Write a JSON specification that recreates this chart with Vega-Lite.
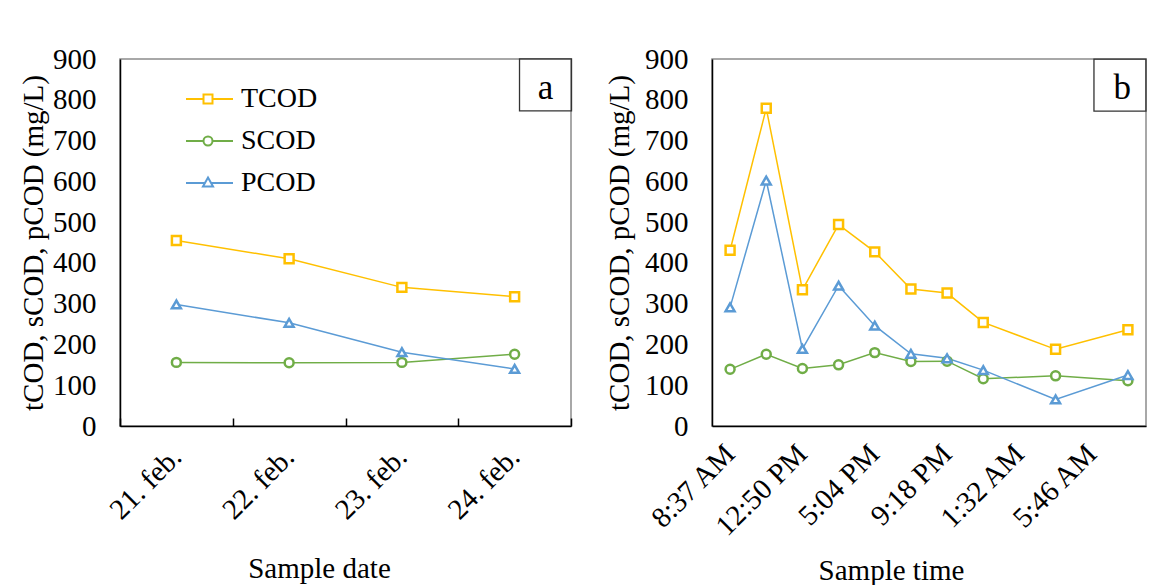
{
  "$schema": "https://vega.github.io/schema/vega-lite/v6.json",
  "background": "white",
  "padding": {"left": 18, "top": 44, "right": 0, "bottom": 0},
  "bounds": "flush",
  "spacing": 141,
  "config": {
    "font": "Liberation Serif",
    "view": {"stroke": "#8c8c8c", "strokeWidth": 1.5},
    "axis": {
      "labelFont": "Liberation Serif",
      "titleFont": "Liberation Serif",
      "labelFontSize": 29,
      "titleFontSize": 29,
      "titleFontWeight": "normal",
      "labelColor": "black",
      "titleColor": "black",
      "domainColor": "black",
      "domainWidth": 1.5,
      "grid": false,
      "labelLimit": 0
    },
    "axisY": {
      "ticks": false,
      "labelPadding": 24,
      "titlePadding": 4,
      "values": [0, 100, 200, 300, 400, 500, 600, 700, 800, 900]
    }
  },
  "hconcat": [
    {
      "width": 451,
      "height": 367,
      "layer": [
        {
          "data": {
            "values": [
              {"date": "21. feb.", "series": "TCOD", "cod": 455},
              {"date": "22. feb.", "series": "TCOD", "cod": 410},
              {"date": "23. feb.", "series": "TCOD", "cod": 340},
              {"date": "24. feb.", "series": "TCOD", "cod": 317},
              {"date": "21. feb.", "series": "SCOD", "cod": 156},
              {"date": "22. feb.", "series": "SCOD", "cod": 155},
              {"date": "23. feb.", "series": "SCOD", "cod": 156},
              {"date": "24. feb.", "series": "SCOD", "cod": 176},
              {"date": "21. feb.", "series": "PCOD", "cod": 298},
              {"date": "22. feb.", "series": "PCOD", "cod": 253},
              {"date": "23. feb.", "series": "PCOD", "cod": 181},
              {"date": "24. feb.", "series": "PCOD", "cod": 140}
            ]
          },
          "encoding": {
            "x": {
              "field": "date",
              "type": "ordinal",
              "bandPosition": 0.5,
              "scale": {
                "type": "band",
                "paddingInner": 0,
                "paddingOuter": 0,
                "domain": ["21. feb.", "22. feb.", "23. feb.", "24. feb."]
              },
              "axis": {
                "title": "Sample date",
                "labelAngle": -45,
                "labelAlign": "right",
                "labelBaseline": "middle",
                "tickBand": "extent",
                "ticks": true,
                "tickSize": -8,
                "tickColor": "black",
                "tickWidth": 1.5,
                "labelPadding": 34,
                "titleX": 199,
                "titleY": 151,
                "titleBaseline": "alphabetic"
              }
            },
            "y": {
              "field": "cod",
              "type": "quantitative",
              "scale": {"domain": [0, 900]},
              "axis": {"title": "tCOD, sCOD, pCOD (mg/L)"}
            },
            "order": {"value": null}
          },
          "layer": [
            {
              "mark": {"type": "line", "strokeWidth": 1.5},
              "encoding": {
                "color": {
                  "field": "series",
                  "type": "nominal",
                  "scale": {
                    "domain": ["TCOD", "SCOD", "PCOD"],
                    "range": ["#FFC000", "#70AD47", "#5B9BD5"]
                  },
                  "legend": {
                    "title": null,
                    "orient": "none",
                    "legendX": 66,
                    "legendY": 19,
                    "padding": 0,
                    "rowPadding": 0,
                    "clipHeight": 42,
                    "symbolSize": 1764,
                    "labelOffset": 11,
                    "labelFont": "Liberation Serif",
                    "labelFontSize": 28,
                    "labelColor": "black",
                    "labelLimit": 0,
                    "symbolStrokeWidth": 2,
                    "encode": {
                      "symbols": {
                        "update": {
                          "shape": {"signal": "datum.value === 'TCOD' ? 'M-1.19,0H-0.214M0.214,0H1.19M-0.214,-0.214H0.214V0.214H-0.214Z' : datum.value === 'SCOD' ? 'M-1.19,0H-0.214M0.214,0H1.19M-0.214,0A0.214,0.214,0,1,0,0.214,0A0.214,0.214,0,1,0,-0.214,0Z' : 'M-1.19,0H-0.15M0.15,0H1.19M0,-0.26L0.24,0.17H-0.24Z'"},
                          "fill": {"value": "white"},
                          "strokeWidth": {"value": 2},
                          "opacity": {"value": 1}
                        }
                      }
                    }
                  }
                }
              }
            },
            {
              "transform": [{"filter": "datum.series === 'TCOD'"}],
              "mark": {"type": "point", "shape": "square", "filled": false, "fill": "white", "size": 80, "strokeWidth": 2.5, "opacity": 1},
              "encoding": {"color": {"field": "series", "type": "nominal", "legend": null}}
            },
            {
              "transform": [{"filter": "datum.series === 'SCOD'"}],
              "mark": {"type": "point", "shape": "circle", "filled": false, "fill": "white", "size": 80, "strokeWidth": 2.5, "opacity": 1},
              "encoding": {"color": {"field": "series", "type": "nominal", "legend": null}}
            },
            {
              "transform": [{"filter": "datum.series === 'PCOD'"}],
              "mark": {"type": "point", "shape": "triangle-up", "filled": false, "fill": "white", "size": 80, "strokeWidth": 2.5, "opacity": 1},
              "encoding": {"color": {"field": "series", "type": "nominal", "legend": null}}
            }
          ]
        },
        {
          "data": {"values": [{"date": "24. feb.", "cod": 836.5, "tag": "a", "base": 802}]},
          "layer": [
            {
              "mark": {"type": "point", "shape": "square", "size": 2704, "filled": false, "stroke": "#333333", "strokeWidth": 1.3, "opacity": 1},
              "encoding": {
                "x": {"field": "date", "type": "ordinal", "bandPosition": 0.774},
                "y": {"field": "cod", "type": "quantitative"}
              }
            },
            {
              "mark": {"type": "text", "fontSize": 35, "font": "Liberation Serif", "color": "black", "baseline": "alphabetic", "align": "center"},
              "encoding": {
                "x": {"field": "date", "type": "ordinal", "bandPosition": 0.774},
                "y": {"field": "base", "type": "quantitative"},
                "text": {"field": "tag"}
              }
            }
          ]
        }
      ]
    },
    {
      "width": 434,
      "height": 367,
      "layer": [
        {
          "data": {
            "values": [
              {"time": "8:37 AM", "series": "TCOD", "cod": 431},
              {"time": "10:44 AM", "series": "TCOD", "cod": 779},
              {"time": "12:50 PM", "series": "TCOD", "cod": 334},
              {"time": "2:57 PM", "series": "TCOD", "cod": 494},
              {"time": "5:04 PM", "series": "TCOD", "cod": 427},
              {"time": "7:11 PM", "series": "TCOD", "cod": 336},
              {"time": "9:18 PM", "series": "TCOD", "cod": 326},
              {"time": "11:25 PM", "series": "TCOD", "cod": 254},
              {"time": "3:39 AM", "series": "TCOD", "cod": 188},
              {"time": "7:53 AM", "series": "TCOD", "cod": 236},
              {"time": "8:37 AM", "series": "SCOD", "cod": 139},
              {"time": "10:44 AM", "series": "SCOD", "cod": 176},
              {"time": "12:50 PM", "series": "SCOD", "cod": 141},
              {"time": "2:57 PM", "series": "SCOD", "cod": 150},
              {"time": "5:04 PM", "series": "SCOD", "cod": 180},
              {"time": "7:11 PM", "series": "SCOD", "cod": 158},
              {"time": "9:18 PM", "series": "SCOD", "cod": 159},
              {"time": "11:25 PM", "series": "SCOD", "cod": 116},
              {"time": "3:39 AM", "series": "SCOD", "cod": 123},
              {"time": "7:53 AM", "series": "SCOD", "cod": 111},
              {"time": "8:37 AM", "series": "PCOD", "cod": 291},
              {"time": "10:44 AM", "series": "PCOD", "cod": 602},
              {"time": "12:50 PM", "series": "PCOD", "cod": 189},
              {"time": "2:57 PM", "series": "PCOD", "cod": 344},
              {"time": "5:04 PM", "series": "PCOD", "cod": 246},
              {"time": "7:11 PM", "series": "PCOD", "cod": 177},
              {"time": "9:18 PM", "series": "PCOD", "cod": 166},
              {"time": "11:25 PM", "series": "PCOD", "cod": 137},
              {"time": "3:39 AM", "series": "PCOD", "cod": 65},
              {"time": "7:53 AM", "series": "PCOD", "cod": 125}
            ]
          },
          "encoding": {
            "x": {
              "field": "time",
              "type": "ordinal",
              "bandPosition": 0.5,
              "scale": {
                "type": "band",
                "paddingInner": 0,
                "paddingOuter": 0,
                "domain": ["8:37 AM", "10:44 AM", "12:50 PM", "2:57 PM", "5:04 PM", "7:11 PM", "9:18 PM", "11:25 PM", "1:32 AM", "3:39 AM", "5:46 AM", "7:53 AM"]
              },
              "axis": {
                "title": "Sample time",
                "values": ["8:37 AM", "12:50 PM", "5:04 PM", "9:18 PM", "1:32 AM", "5:46 AM"],
                "labelAngle": -45,
                "labelAlign": "right",
                "labelBaseline": "middle",
                "ticks": false,
                "labelPadding": 23,
                "titleX": 179,
                "titleY": 153,
                "titleBaseline": "alphabetic"
              }
            },
            "y": {
              "field": "cod",
              "type": "quantitative",
              "scale": {"domain": [0, 900]},
              "axis": {"title": "tCOD, sCOD, pCOD (mg/L)", "titlePadding": 10}
            },
            "color": {
              "field": "series",
              "type": "nominal",
              "scale": {
                "domain": ["TCOD", "SCOD", "PCOD"],
                "range": ["#FFC000", "#70AD47", "#5B9BD5"]
              },
              "legend": null
            },
            "order": {"value": null}
          },
          "layer": [
            {"mark": {"type": "line", "strokeWidth": 1.5}},
            {
              "transform": [{"filter": "datum.series === 'TCOD'"}],
              "mark": {"type": "point", "shape": "square", "filled": false, "fill": "white", "size": 80, "strokeWidth": 2.5, "opacity": 1}
            },
            {
              "transform": [{"filter": "datum.series === 'SCOD'"}],
              "mark": {"type": "point", "shape": "circle", "filled": false, "fill": "white", "size": 80, "strokeWidth": 2.5, "opacity": 1}
            },
            {
              "transform": [{"filter": "datum.series === 'PCOD'"}],
              "mark": {"type": "point", "shape": "triangle-up", "filled": false, "fill": "white", "size": 80, "strokeWidth": 2.5, "opacity": 1}
            }
          ]
        },
        {
          "data": {"values": [{"time": "7:53 AM", "cod": 836, "tag": "b", "base": 802}]},
          "layer": [
            {
              "mark": {"type": "point", "shape": "square", "size": 2704, "filled": false, "stroke": "#333333", "strokeWidth": 1.3, "opacity": 1},
              "encoding": {
                "x": {"field": "time", "type": "ordinal", "bandPosition": 0.28},
                "y": {"field": "cod", "type": "quantitative"}
              }
            },
            {
              "mark": {"type": "text", "fontSize": 35, "font": "Liberation Serif", "color": "black", "baseline": "alphabetic", "align": "center"},
              "encoding": {
                "x": {"field": "time", "type": "ordinal", "bandPosition": 0.34},
                "y": {"field": "base", "type": "quantitative"},
                "text": {"field": "tag"}
              }
            }
          ]
        }
      ]
    }
  ]
}
